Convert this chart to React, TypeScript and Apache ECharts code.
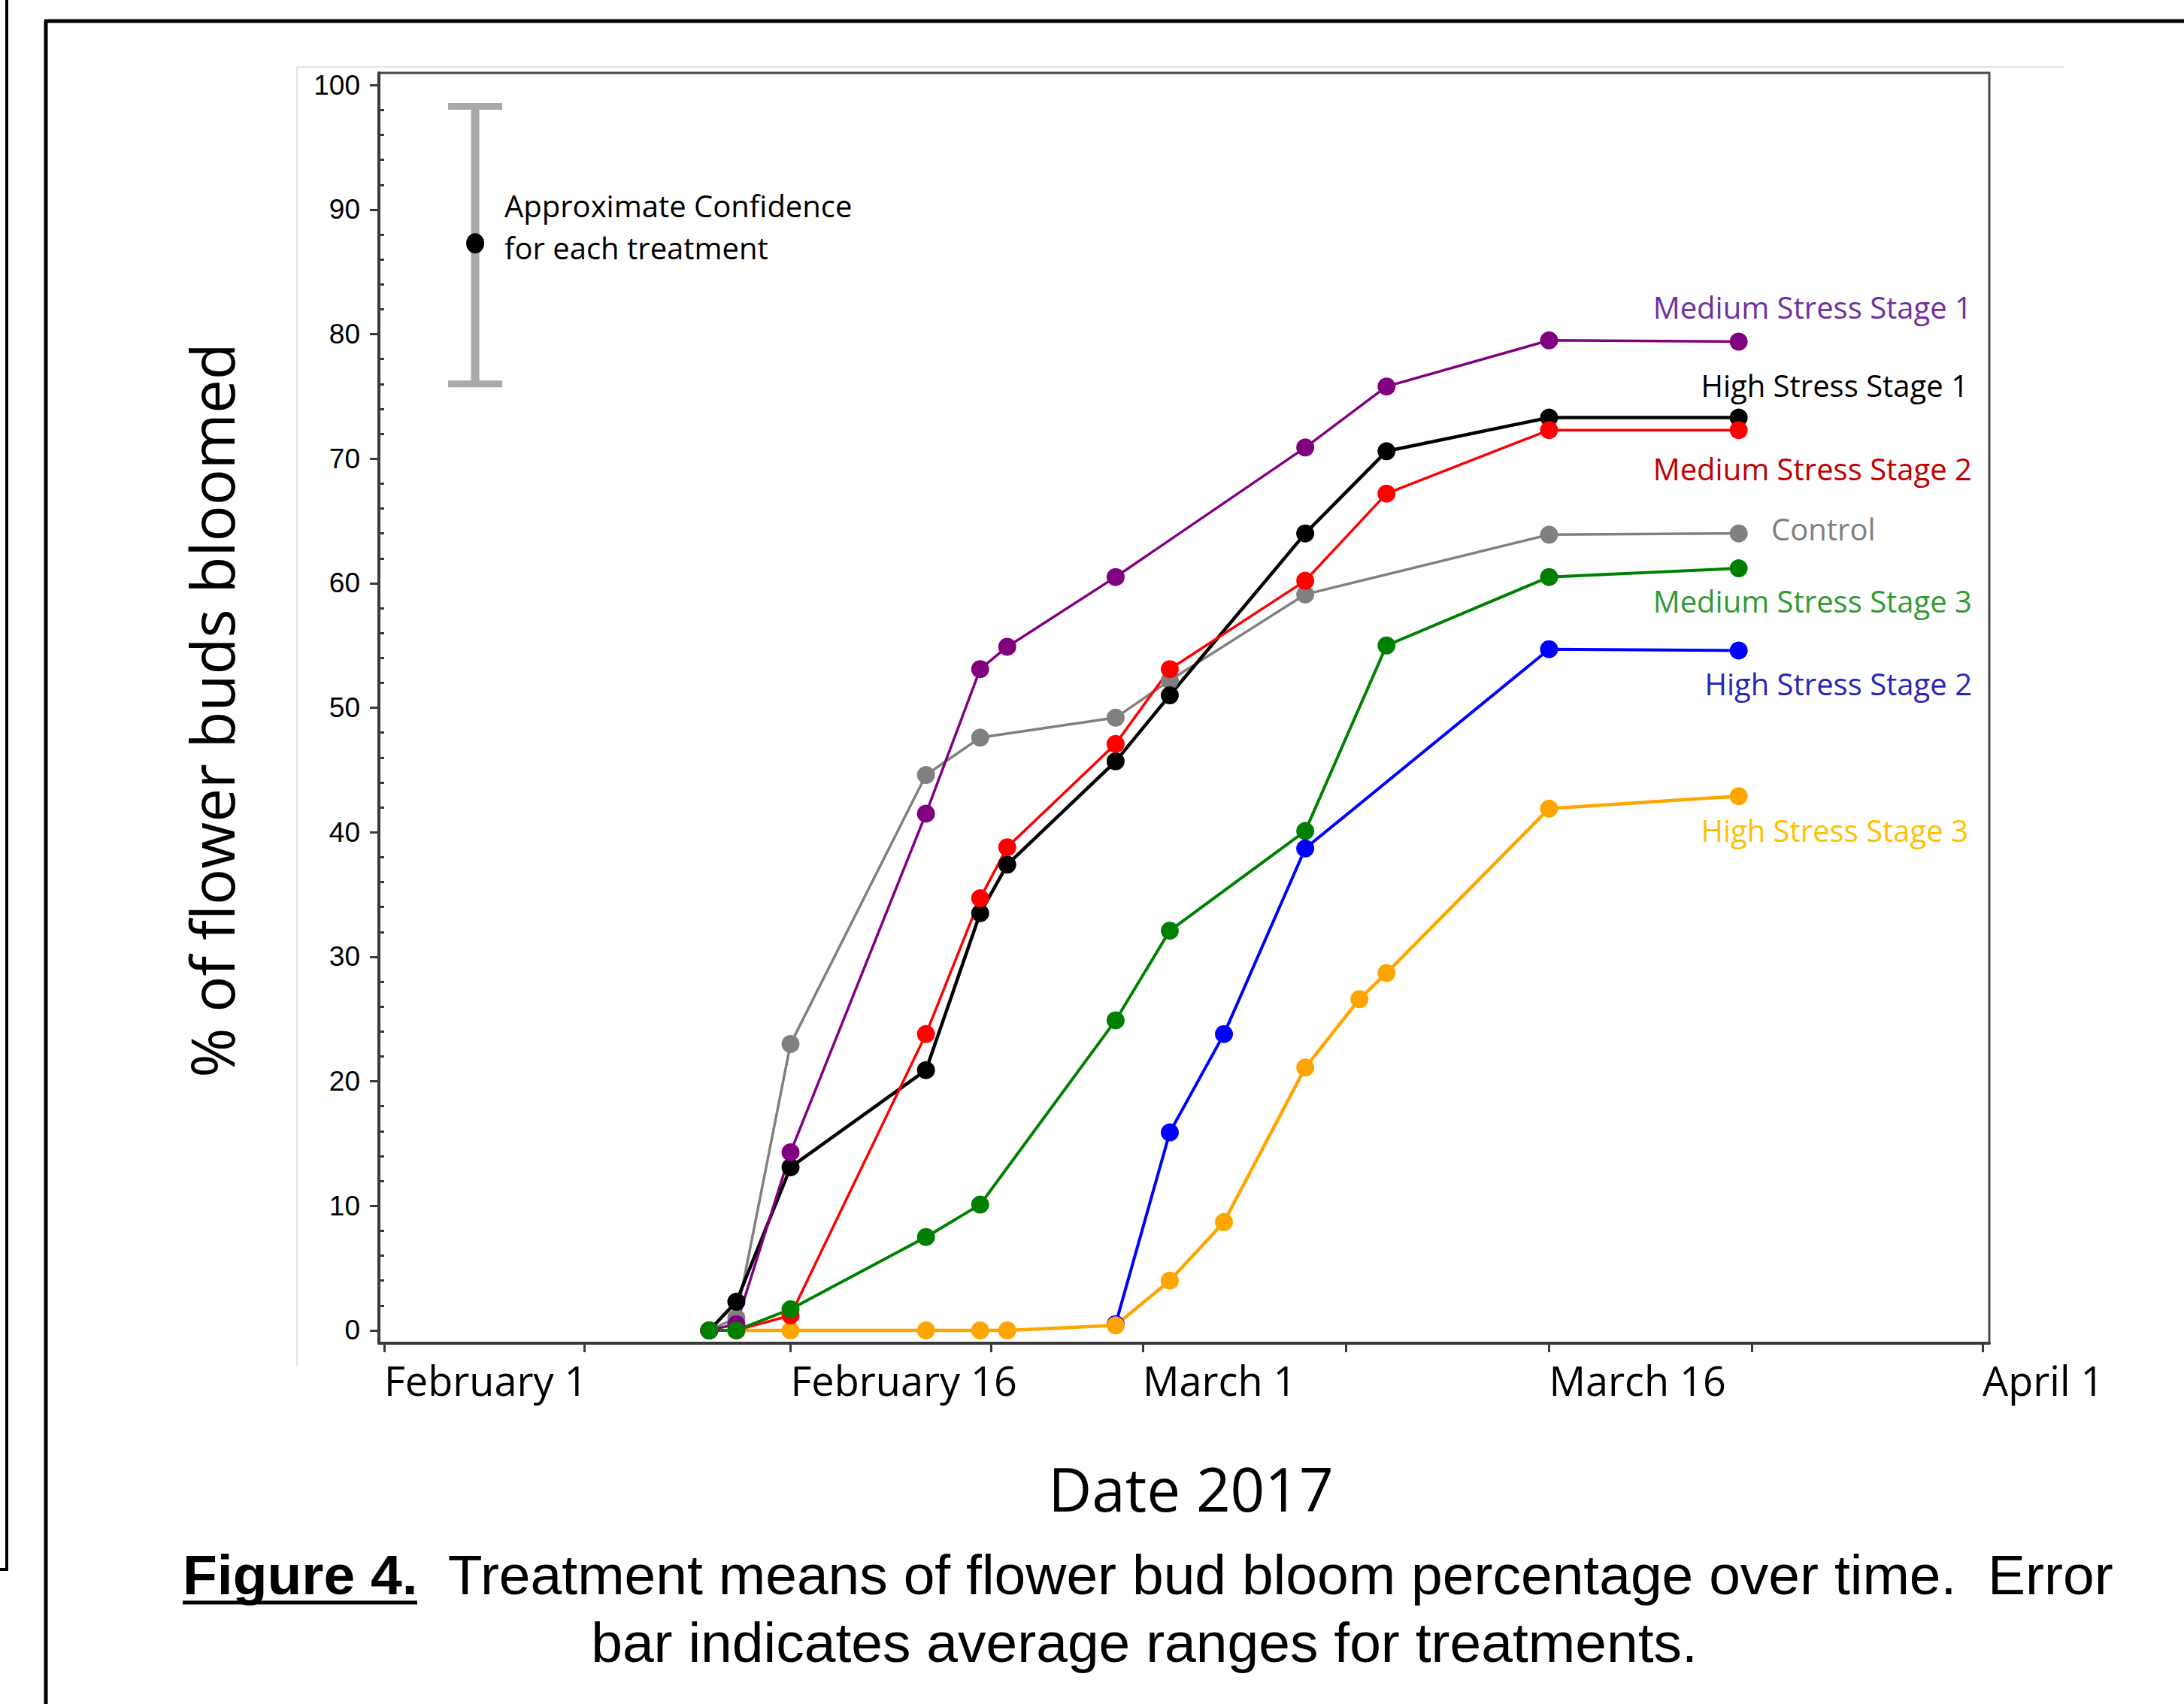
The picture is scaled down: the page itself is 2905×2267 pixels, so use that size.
import React, { useEffect, useRef } from "react";
import * as echarts from "echarts";

// ---- data (x = days after February 1, 2017; y = % of flower buds bloomed) ----
const controlDays = [12, 13, 15, 20, 22, 27, 29, 34, 43, 50];
const controlPct = [0, 1.0, 23.0, 44.6, 47.6, 49.2, 52.2, 59.1, 63.9, 64.0];

const ms1Days = [12, 13, 15, 20, 22, 23, 27, 34, 37, 43, 50];
const ms1Pct = [0, 0.5, 14.3, 41.5, 53.1, 54.9, 60.5, 70.9, 75.8, 79.5, 79.4];

const hs1Days = [12, 13, 15, 20, 22, 23, 27, 29, 34, 37, 43, 50];
const hs1Pct = [0, 2.3, 13.1, 20.9, 33.5, 37.4, 45.7, 51.0, 64.0, 70.6, 73.3, 73.3];

const ms2Days = [12, 13, 15, 20, 22, 23, 27, 29, 34, 37, 43, 50];
const ms2Pct = [0, 0, 1.2, 23.8, 34.7, 38.8, 47.1, 53.1, 60.2, 67.2, 72.3, 72.3];

const ms3Days = [12, 13, 15, 20, 22, 27, 29, 34, 37, 43, 50];
const ms3Pct = [0, 0, 1.7, 7.5, 10.1, 24.9, 32.1, 40.1, 55.0, 60.5, 61.2];

const hs2Days = [27, 29, 31, 34, 43, 50];
const hs2Pct = [0.5, 15.9, 23.8, 38.7, 54.7, 54.6];

const hs3Days = [13, 15, 20, 22, 23, 27, 29, 31, 34, 36, 37, 43, 50];
const hs3Pct = [0, 0, 0, 0, 0, 0.4, 4.0, 8.7, 21.1, 26.6, 28.7, 41.9, 42.9];

// approximate confidence bar: [x day, low, mid, high]
const confBar = [3.36, 76.0, 87.3, 98.3];

// axis ticks
const xLabelDays = [0, 15, 28, 43, 59];
const xLabelNames = ["February 1", "February 16", "March 1", "March 16", "April 1"];
const xTickDays = [0, 7.4, 15, 22.4, 28, 35.5, 43, 50.5, 59];
const yMajorTicks = [0, 10, 20, 30, 40, 50, 60, 70, 80, 90, 100];
const yMinorTicks = [2, 4, 6, 8, 12, 14, 16, 18, 22, 24, 26, 28, 32, 34, 36, 38, 42, 44, 46, 48, 52, 54, 56, 58, 62, 64, 66, 68, 72, 74, 76, 78, 82, 84, 86, 88, 92, 94, 96, 98];

const zip = (a: number[], b: number[]) => a.map((d, i) => [d, b[i]]);

const SANS = "'Open Sans', 'DejaVu Sans', sans-serif";
const ARIAL = "'Liberation Sans', Arial, sans-serif";

export default function App() {
  const ref = useRef<HTMLDivElement>(null);

  useEffect(() => {
    if (!ref.current) return;
    const chart = echarts.init(ref.current, undefined, { renderer: "svg" });

    const lineSeries = (name: string, days: number[], pct: number[], color: string, width: number) => ({
      name,
      type: "line",
      data: zip(days, pct),
      symbol: "circle",
      symbolSize: 24,
      lineStyle: { color, width },
      itemStyle: { color },
      emphasis: { disabled: true },
    });

    const seriesLabel = (text: string, x: number, y: number, color: string, align: string) => ({
      type: "text",
      x,
      y,
      style: { text, fill: color, font: `40px ${SANS}`, textAlign: align, textVerticalAlign: "middle" },
    });

    chart.setOption({
      animation: false,
      backgroundColor: "#ffffff",
      grid: {
        left: 504,
        top: 97,
        width: 2142,
        height: 1690,
        show: true,
        borderColor: "#4a4a4a",
        borderWidth: 3,
        backgroundColor: "transparent",
      },
      xAxis: {
        type: "value",
        min: -0.194,
        max: 59.25,
        splitLine: { show: false },
        axisLine: { show: true, onZero: false, lineStyle: { color: "#3a3a3a", width: 4 } },
        axisTick: { show: true, customValues: xTickDays, length: 12, lineStyle: { color: "#3a3a3a", width: 3 } },
        axisLabel: {
          customValues: xLabelDays,
          formatter: (v: number) => {
            const i = xLabelDays.findIndex((d) => Math.abs(d - v) < 1e-6);
            return i >= 0 ? xLabelNames[i] : "";
          },
          align: "left",
          margin: 22,
          fontSize: 54,
          fontFamily: SANS,
          color: "#000",
        },
      },
      yAxis: [
        {
          type: "value",
          min: -1.03,
          max: 100.98,
          splitLine: { show: false },
          axisLine: { show: true, onZero: false, lineStyle: { color: "#3a3a3a", width: 4 } },
          axisTick: { show: true, customValues: yMajorTicks, length: 12, lineStyle: { color: "#3a3a3a", width: 3 } },
          axisLabel: {
            customValues: yMajorTicks,
            margin: 25,
            fontSize: 37,
            fontFamily: "'Liberation Sans Narrow', 'Liberation Sans', Arial, sans-serif",
            color: "#000",
          },
        },
        {
          type: "value",
          min: -1.03,
          max: 100.98,
          position: "left",
          splitLine: { show: false },
          axisLine: { show: false },
          axisTick: { show: true, customValues: yMinorTicks, length: 7, lineStyle: { color: "#3a3a3a", width: 3 } },
          axisLabel: { show: false },
        },
      ],
      series: [
        lineSeries("High Stress Stage 2", hs2Days, hs2Pct, "#0000FF", 4),
        lineSeries("High Stress Stage 3", hs3Days, hs3Pct, "#FFA500", 4.5),
        lineSeries("Control", controlDays, controlPct, "#808080", 3.5),
        lineSeries("High Stress Stage 1", hs1Days, hs1Pct, "#000000", 4.5),
        lineSeries("Medium Stress Stage 2", ms2Days, ms2Pct, "#FF0000", 3.5),
        lineSeries("Medium Stress Stage 1", ms1Days, ms1Pct, "#800080", 3.5),
        lineSeries("Medium Stress Stage 3", ms3Days, ms3Pct, "#008000", 4),
        {
          name: "Approximate Confidence",
          type: "custom",
          data: [confBar],
          renderItem: (_params: any, api: any) => {
            const x = api.value(0);
            const lo = api.coord([x, api.value(1)]);
            const mid = api.coord([x, api.value(2)]);
            const hi = api.coord([x, api.value(3)]);
            const stroke = "#A9A9A9";
            return {
              type: "group",
              children: [
                { type: "line", shape: { x1: lo[0], y1: lo[1], x2: hi[0], y2: hi[1] }, style: { stroke, lineWidth: 11 } },
                { type: "line", shape: { x1: hi[0] - 36, y1: hi[1], x2: hi[0] + 36, y2: hi[1] }, style: { stroke, lineWidth: 9 } },
                { type: "line", shape: { x1: lo[0] - 36, y1: lo[1], x2: lo[0] + 36, y2: lo[1] }, style: { stroke, lineWidth: 9 } },
                { type: "ellipse", shape: { cx: mid[0], cy: mid[1], rx: 12, ry: 13.5 }, style: { fill: "#000" } },
              ],
            };
          },
        },
      ],
      graphic: [
        // outer figure frames
        { type: "line", shape: { x1: 61, y1: 28, x2: 61, y2: 2267 }, style: { stroke: "#000", lineWidth: 5 } },
        { type: "line", shape: { x1: 59, y1: 28, x2: 2905, y2: 28 }, style: { stroke: "#000", lineWidth: 5 } },
        { type: "line", shape: { x1: 9, y1: 0, x2: 9, y2: 2088 }, style: { stroke: "#000", lineWidth: 4 } },
        { type: "line", shape: { x1: 0, y1: 2088, x2: 11, y2: 2088 }, style: { stroke: "#000", lineWidth: 4 } },
        // faint image border
        { type: "line", shape: { x1: 395, y1: 89, x2: 395, y2: 1818 }, style: { stroke: "#e4e4e4", lineWidth: 2 } },
        { type: "line", shape: { x1: 395, y1: 89, x2: 2745, y2: 89 }, style: { stroke: "#e4e4e4", lineWidth: 2 } },
        // annotation text
        {
          type: "text",
          x: 671,
          y: 273,
          style: { text: "Approximate Confidence", fill: "#000", font: `40px ${SANS}`, textAlign: "left", textVerticalAlign: "middle" },
        },
        {
          type: "text",
          x: 671,
          y: 329,
          style: { text: "for each treatment", fill: "#000", font: `40px ${SANS}`, textAlign: "left", textVerticalAlign: "middle" },
        },
        seriesLabel("Medium Stress Stage 1", 2623, 408, "#7030A0", "right"),
        seriesLabel("High Stress Stage 1", 2618, 512, "#000000", "right"),
        seriesLabel("Medium Stress Stage 2", 2623, 623, "#C00000", "right"),
        seriesLabel("Control", 2356, 703, "#7F7F7F", "left"),
        seriesLabel("Medium Stress Stage 3", 2623, 799, "#339933", "right"),
        seriesLabel("High Stress Stage 2", 2623, 909, "#2828B4", "right"),
        seriesLabel("High Stress Stage 3", 2618, 1104, "#FFC000", "right"),
        // axis titles
        {
          type: "text",
          x: 280,
          y: 945,
          rotation: Math.PI / 2,
          style: { text: "% of flower buds bloomed", fill: "#000", font: `80px ${SANS}`, textAlign: "center", textVerticalAlign: "middle" },
        },
        {
          type: "text",
          x: 1584,
          y: 1979,
          style: { text: "Date 2017", fill: "#000", font: `80px ${SANS}`, textAlign: "center", textVerticalAlign: "middle" },
        },
        // caption
        {
          type: "text",
          x: 243,
          y: 2095,
          style: {
            text: "{b|Figure 4.}{n|  Treatment means of flower bud bloom percentage over time.  Error}",
            textAlign: "left",
            textVerticalAlign: "middle",
            rich: {
              b: { fontFamily: ARIAL, fontSize: 75, fontWeight: "bold", fill: "#000" },
              n: { fontFamily: ARIAL, fontSize: 75, fill: "#000" },
            },
          },
        },
        { type: "line", shape: { x1: 243, y1: 2132, x2: 555, y2: 2132 }, style: { stroke: "#000", lineWidth: 5 } },
        {
          type: "text",
          x: 1522,
          y: 2185,
          style: {
            text: "bar indicates average ranges for treatments.",
            fill: "#000",
            font: `75px ${ARIAL}`,
            textAlign: "center",
            textVerticalAlign: "middle",
          },
        },
      ],
    });

    return () => chart.dispose();
  }, []);

  return <div ref={ref} style={{ position: "fixed", left: 0, top: 0, width: 2905, height: 2267 }} />;
}
